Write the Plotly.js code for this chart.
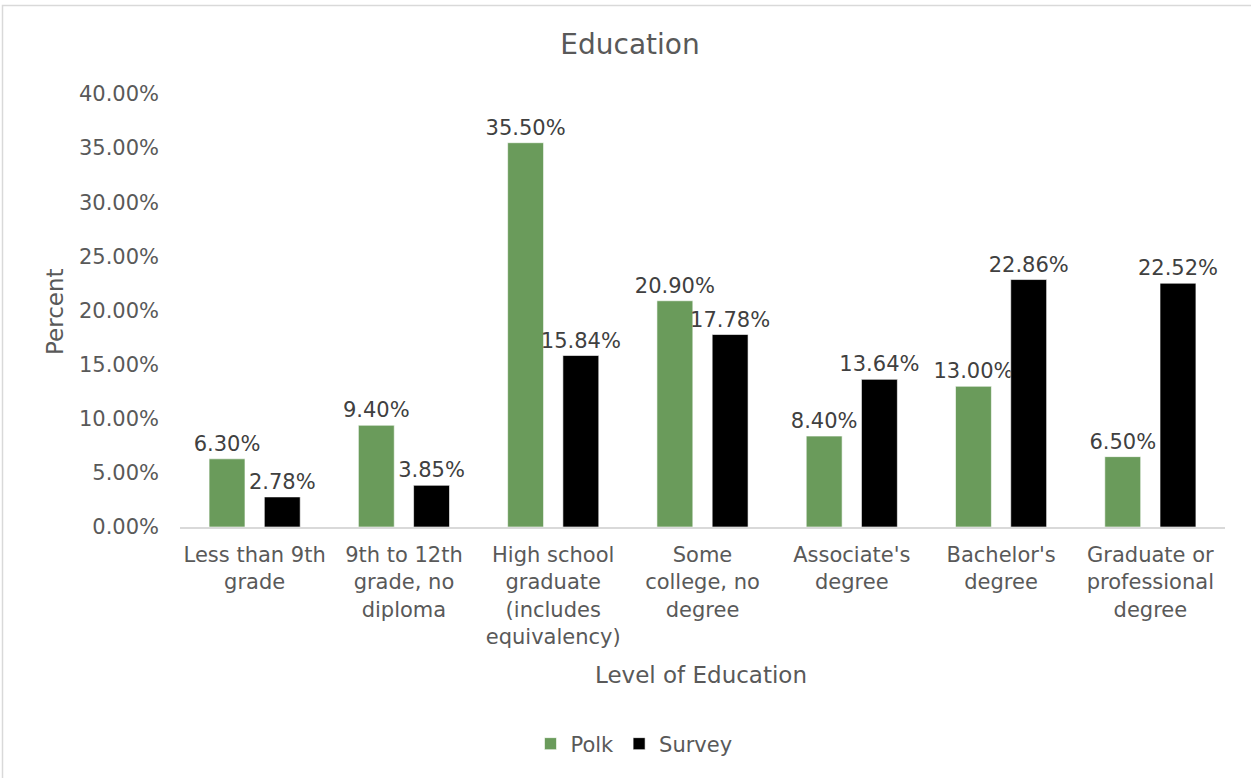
<!DOCTYPE html>
<html>
<head>
<meta charset="utf-8">
<script src="https://cdn.plot.ly/plotly-3.0.1.min.js"></script>
<style>
  html, body { margin: 0; padding: 0; background: #ffffff; }
  #chart { width: 1251px; height: 778px; }
</style>
</head>
<body>
<div id="chart"></div>
<script>
const categories = [
  "Less than 9th<br>grade",
  "9th to 12th<br>grade, no<br>diploma",
  "High school<br>graduate<br>(includes<br>equivalency)",
  "Some<br>college, no<br>degree",
  "Associate's<br>degree",
  "Bachelor's<br>degree",
  "Graduate or<br>professional<br>degree"
];
const polk = [0.063, 0.094, 0.355, 0.209, 0.084, 0.130, 0.065];
const survey = [0.0278, 0.0385, 0.1584, 0.1778, 0.1364, 0.2286, 0.2252];
const yTickVals = [0, 0.05, 0.10, 0.15, 0.20, 0.25, 0.30, 0.35, 0.40];

const FONT = "DejaVu Sans, Liberation Sans, Arial, sans-serif";

const traces = [
  {
    type: "bar", name: "Polk", x: categories, y: polk,
    marker: { color: "#6A9B5B", line: { color: "#ffffff", width: 0.6 } },
    texttemplate: "%{y:.2%}", textposition: "outside", constraintext: "none",
    cliponaxis: false,
    textfont: { family: FONT, size: 21, color: "#404040" },
    hoverinfo: "x+y"
  },
  {
    type: "bar", name: "Survey", x: categories, y: survey,
    marker: { color: "#000000", line: { color: "#ffffff", width: 0.6 } },
    texttemplate: "%{y:.2%}", textposition: "outside", constraintext: "none",
    cliponaxis: false,
    textfont: { family: FONT, size: 21, color: "#404040" },
    hoverinfo: "x+y"
  }
];

const W = 1251, H = 778;
const L = 180, R = 1225, T = 94, B = 527;
const px = v => (v - L) / (R - L);
const py = v => (B - v) / (B - T);

const layout = {
  width: W, height: H,
  paper_bgcolor: "#ffffff", plot_bgcolor: "#ffffff",
  font: { family: FONT, size: 21, color: "#595959" },
  margin: { l: L, r: W - R, t: T, b: H - B, pad: 0 },
  barmode: "group", bargap: 0.26, bargroupgap: 0.35,
  showlegend: true,
  title: {
    text: "Education",
    font: { family: FONT, size: 28, color: "#595959" },
    xref: "container", x: 630 / W, xanchor: "center",
    yref: "container", y: 1 - 44 / H, yanchor: "middle"
  },
  xaxis: {
    type: "category",
    showgrid: false, zeroline: false,
    showline: true, linecolor: "#d9d9d9", linewidth: 1.5,
    ticks: "", ticklabelstandoff: 8,
    tickfont: { family: FONT, size: 21, color: "#595959" },
    automargin: false, fixedrange: true
  },
  yaxis: {
    range: [0, 0.40], tickvals: yTickVals, tickformat: ".2%",
    showgrid: false, zeroline: false, showline: false,
    ticks: "", ticklabelstandoff: 20,
    tickfont: { family: FONT, size: 21, color: "#595959" },
    automargin: false, fixedrange: true
  },
  legend: {
    orientation: "h", x: px(634), xanchor: "center",
    y: py(744), yanchor: "middle",
    font: { family: FONT, size: 21, color: "#595959" },
    itemwidth: 30, bgcolor: "rgba(0,0,0,0)", traceorder: "normal"
  },
  annotations: [
    {
      text: "Percent", xref: "paper", yref: "paper",
      x: px(55), y: py(312), xanchor: "center", yanchor: "middle",
      textangle: -90, showarrow: false,
      font: { family: FONT, size: 23, color: "#595959" }
    },
    {
      text: "Level of Education", xref: "paper", yref: "paper",
      x: px(701), y: py(675), xanchor: "center", yanchor: "middle",
      showarrow: false,
      font: { family: FONT, size: 23, color: "#595959" }
    }
  ],
  shapes: [
    {
      type: "rect", xref: "paper", yref: "paper",
      x0: px(2.5), x1: px(1270), y0: py(800), y1: py(5.5),
      line: { color: "#d9d9d9", width: 1.5 }, fillcolor: "rgba(0,0,0,0)",
      layer: "below"
    }
  ]
};

Plotly.newPlot("chart", traces, layout, { displayModeBar: false, responsive: false, staticPlot: false });
</script>
</body>
</html>
